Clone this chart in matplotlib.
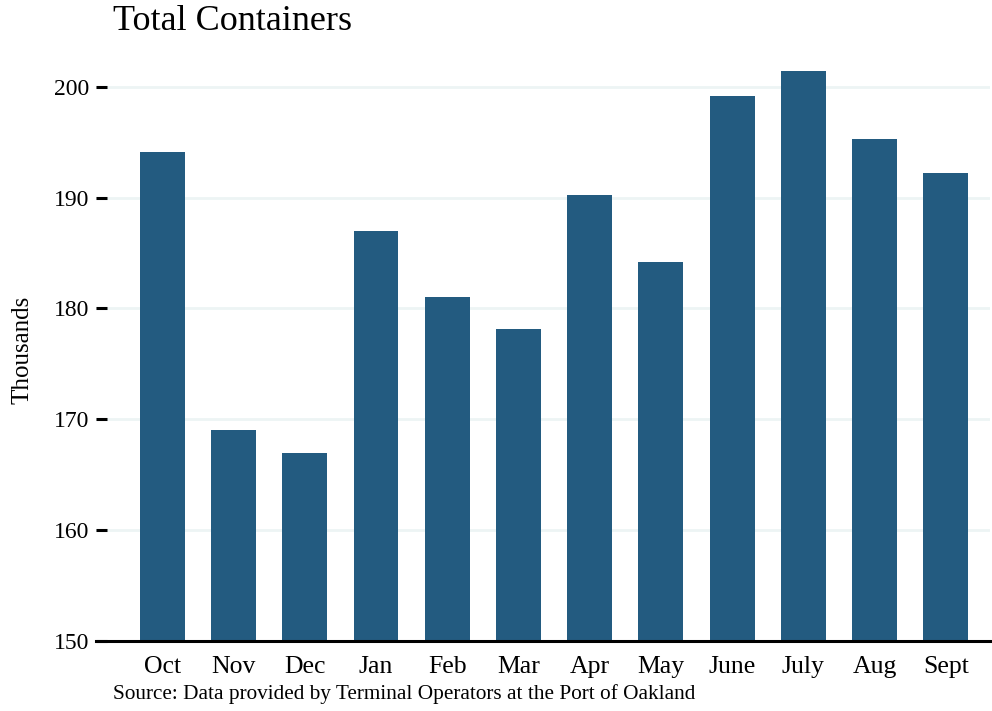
import matplotlib
matplotlib.use("Agg")
import matplotlib.pyplot as plt

months = ["Oct", "Nov", "Dec", "Jan", "Feb", "Mar", "Apr", "May", "June", "July", "Aug", "Sept"]
containers = [194.1, 169.0, 167.0, 187.0, 181.0, 178.1, 190.2, 184.2, 199.2, 201.4, 195.3, 192.2]
yticks = [150, 160, 170, 180, 190, 200]

plt.rcParams["font.family"] = ["Liberation Serif", "DejaVu Serif"]

W, H = 992, 711
fig = plt.figure(figsize=(W / 100, H / 100), dpi=100)
ax = fig.add_axes([96 / W, (H - 641) / H, (990 - 96) / W, (641 - 59) / H])

x = list(range(len(months)))
ax.bar(x, containers, width=0.63, color="#235b80", zorder=2)

ax.set_ylim(150, 202.5)
ax.set_xlim(-0.93, 11.62)
ax.set_yticks(yticks)
ax.set_yticklabels([str(t) for t in yticks])
ax.set_xticks(x)
ax.set_xticklabels(months)

ax.grid(axis="y", color="#edf4f4", linewidth=2, zorder=0)
ax.grid(axis="x", visible=False)
for s in ["top", "right", "left"]:
    ax.spines[s].set_visible(False)
ax.spines["bottom"].set_linewidth(2.2)
ax.spines["bottom"].set_color("black")
ax.spines["bottom"].set_zorder(3)

ax.tick_params(axis="y", direction="in", length=8, width=2.2, color="black",
               labelsize=17, pad=5)
ax.tick_params(axis="x", length=0, labelsize=18.5, pad=11)

ax.set_ylabel("Thousands", fontsize=18)
ax.yaxis.set_label_coords(-0.07, 0.5)

fig.text(113 / W, 1 - 22 / H, "Total Containers", fontsize=26, va="center", ha="left")
fig.text(113 / W, 1 - 694 / H, "Source: Data provided by Terminal Operators at the Port of Oakland",
         fontsize=15.3, va="center", ha="left")

fig.savefig("out.png", dpi=100)
